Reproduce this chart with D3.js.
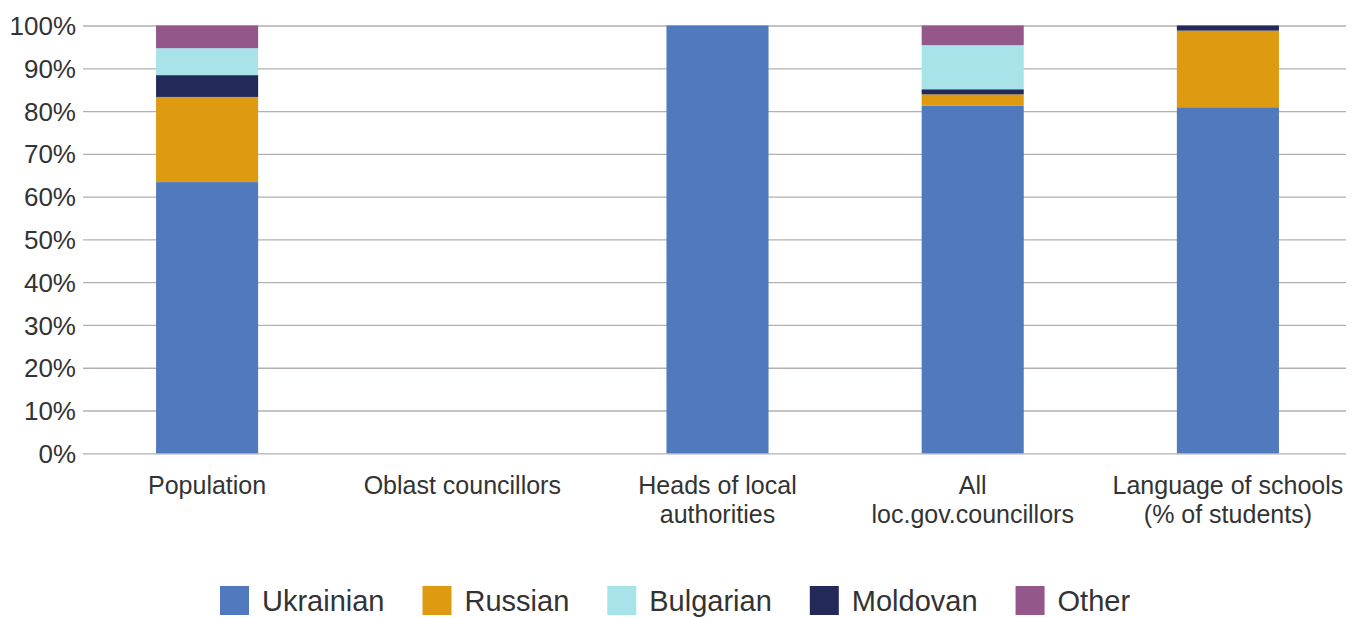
<!DOCTYPE html>
<html>
<head>
<meta charset="utf-8">
<script src="https://cdn.jsdelivr.net/npm/d3@7"></script>
<style>
  html, body { margin: 0; padding: 0; background: #fff; }
  svg { display: block; font-family: "Liberation Sans", Arial, sans-serif; }
</style>
</head>
<body>
<svg id="chart" width="1360" height="617"></svg>
<script>
const categories = [
  ["Population"],
  ["Oblast councillors"],
  ["Heads of local", "authorities"],
  ["All", "loc.gov.councillors"],
  ["Language of schools", "(% of students)"]
];
const seriesNames = ["Ukrainian", "Russian", "Bulgarian", "Moldovan", "Other"];
const stackOrder = ["Ukrainian", "Russian", "Moldovan", "Bulgarian", "Other"];
const ukrainian = [63.4, 0, 100, 81.3, 80.9];
const russian   = [19.9, 0, 0, 2.6, 17.9];
const bulgarian = [6.3, 0, 0, 10.3, 0];
const moldovan  = [5.1, 0, 0, 1.2, 1.2];
const other     = [5.3, 0, 0, 4.6, 0];
const yTicks = [0, 10, 20, 30, 40, 50, 60, 70, 80, 90, 100];
const colors = ["#517abe", "#de9a10", "#a8e3ea", "#232a5a", "#93578a"];

const seriesValues = [ukrainian, russian, bulgarian, moldovan, other];
const colorOf = {};
seriesNames.forEach((s, j) => colorOf[s] = colors[j]);
const rows = categories.map((c, i) => {
  const r = { key: i };
  seriesNames.forEach((s, j) => r[s] = seriesValues[j][i]);
  return r;
});

const svg = d3.select("#chart");
const x = d3.scaleBand().domain(d3.range(categories.length))
  .range([79.5, 1355.5]).paddingInner(0.6).paddingOuter(0.3);
const y = d3.scaleLinear().domain([0, 100]).range([453.3, 25.5]);
const gridX0 = 83, gridX1 = 1346;

// gridlines
const yAxis = d3.axisLeft(y).tickValues(yTicks).tickFormat(d => d + "%")
  .tickSize(-(gridX1 - gridX0)).tickPadding(7);
const ga = svg.append("g").attr("transform", `translate(${gridX0},0)`).call(yAxis);
ga.select(".domain").remove();
ga.selectAll(".tick line").attr("stroke", "#b5afb2").attr("stroke-width", 1.3);
ga.selectAll(".tick text").attr("fill", "#333").attr("font-size", 26).attr("dy", "0.35em");

// bars
const stack = d3.stack().keys(stackOrder)(rows);
svg.append("g").selectAll("g").data(stack).join("g")
  .attr("fill", d => colorOf[d.key])
  .selectAll("rect").data(d => d).join("rect")
  .attr("x", (d, i) => x(i))
  .attr("width", x.bandwidth())
  .attr("y", d => y(d[1]))
  .attr("height", d => Math.max(0, y(d[0]) - y(d[1])));

// x labels
const xl = svg.append("g");
categories.forEach((lines, i) => {
  const t = xl.append("text").attr("text-anchor", "middle")
    .attr("fill", "#333").attr("font-size", 25);
  lines.forEach((ln, k) => {
    t.append("tspan").attr("x", x(i) + x.bandwidth() / 2)
      .attr("y", 494 + k * 29).text(ln);
  });
});

// legend
const lg = svg.append("g");
let lx = 220;
seriesNames.forEach((s, i) => {
  lg.append("rect").attr("x", lx).attr("y", 586).attr("width", 29).attr("height", 29)
    .attr("fill", colors[i]);
  const t = lg.append("text").attr("x", lx + 42).attr("y", 611)
    .attr("fill", "#333").attr("font-size", 29).text(s);
  lx += 42 + t.node().getComputedTextLength() + 38;
});
</script>
</body>
</html>
